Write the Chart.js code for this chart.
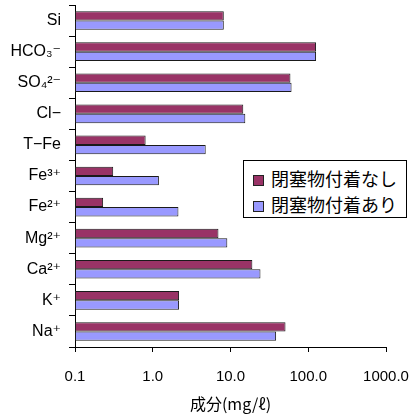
<!DOCTYPE html>
<html>
<head>
<meta charset="utf-8">
<script src="https://cdn.jsdelivr.net/npm/chart.js@4/dist/chart.umd.min.js"></script>
<style>
  html, body { margin: 0; padding: 0; background: #fff; }
  #wrap { position: relative; width: 412px; height: 418px; }
  #legend {
    position: absolute; left: 243px; top: 160px; width: 162px; height: 56px;
    border: 1px solid #000; background: #fff; box-sizing: content-box;
    font-family: 'Noto Sans CJK JP', 'Liberation Sans', sans-serif; font-size: 18px; color: #000;
  }
  #legend .item { position: absolute; left: 9px; height: 22px; line-height: 22px; white-space: nowrap; }
  #legend .box { display: inline-block; width: 9px; height: 9px; border: 1px solid #222; vertical-align: middle; margin-right: 7px; position: relative; top: -1px; }
</style>
</head>
<body>
<div id="wrap">
  <canvas id="chart" width="412" height="418"></canvas>
  <div id="legend"></div>
</div>
<script>
// 成分ごとの濃度 (mg/ℓ)
const categories = ['Si', 'HCO₃⁻', 'SO₄²⁻', 'Cl−', 'T−Fe', 'Fe³⁺', 'Fe²⁺', 'Mg²⁺', 'Ca²⁺', 'K⁺', 'Na⁺'];
const seriesNames = ['閉塞物付着なし', '閉塞物付着あり'];
const withoutDeposit = [8.2, 126, 59, 14.6, 0.81, 0.31, 0.23, 7.0, 19.1, 2.18, 51];
const withDeposit = [8.2, 126, 61, 15.5, 4.8, 1.2, 2.14, 9.1, 24.3, 2.18, 38.6];
const xTicks = [0.1, 1, 10, 100, 1000];
const xTitle = '成分(mg/ℓ)';

const colors = ['#993366', '#9999ff'];
const fontFamily = "'Liberation Sans', 'DejaVu Sans', 'Noto Sans CJK JP', sans-serif";

const ctx = document.getElementById('chart').getContext('2d');
const chart = new Chart(ctx, {
    type: 'bar',
    data: {
        labels: categories,
        datasets: [
            { label: seriesNames[0], data: withoutDeposit, backgroundColor: colors[0] },
            { label: seriesNames[1], data: withDeposit, backgroundColor: colors[1] }
        ].map(ds => Object.assign(ds, {
            borderColor: '#1a1a1a',
            borderWidth: 1,
            borderSkipped: false,
            barPercentage: 1.0,
            categoryPercentage: 0.6
        }))
    },
    options: {
        indexAxis: 'y',
        responsive: false,
        animation: false,
        layout: { padding: { top: 5, right: 26, left: 0, bottom: 0 } },
        plugins: {
            legend: { display: false },
            tooltip: { enabled: false }
        },
        scales: {
            x: {
                type: 'logarithmic',
                min: 0.1,
                max: 1000,
                afterBuildTicks: (scale) => {
                    scale.ticks = xTicks.map(v => ({ value: v }));
                },
                afterFit: (scale) => {
                    scale.height = 71;
                    scale.paddingLeft = 0;
                    scale.paddingRight = 0;
                },
                ticks: {
                    color: '#000',
                    font: { family: fontFamily, size: 15 },
                    padding: 16,
                    maxRotation: 0,
                    autoSkip: false,
                    callback: (value) => Number(value).toFixed(1)
                },
                grid: { drawOnChartArea: false, drawTicks: true, tickLength: 5, color: '#000' },
                border: { display: true, color: '#000', width: 1 },
                title: {
                    display: true,
                    text: xTitle,
                    color: '#000',
                    font: { family: "'Noto Sans CJK JP', sans-serif", size: 16 },
                    padding: { top: 0, bottom: 4 }
                }
            },
            y: {
                offset: true,
                afterFit: (scale) => {
                    scale.width = 75;
                    scale.paddingTop = 0;
                    scale.paddingBottom = 0;
                },
                ticks: {
                    color: '#000',
                    font: { family: fontFamily, size: 16 },
                    padding: 8
                },
                grid: { offset: true, drawOnChartArea: false, drawTicks: true, tickLength: 6, color: '#000' },
                border: { display: true, color: '#000', width: 1 }
            }
        }
    }
});

// 凡例
const legend = document.getElementById('legend');
chart.data.datasets.forEach((ds, i) => {
    const item = document.createElement('div');
    item.className = 'item';
    item.style.top = (6 + i * 26) + 'px';
    const box = document.createElement('span');
    box.className = 'box';
    box.style.background = ds.backgroundColor;
    item.appendChild(box);
    item.appendChild(document.createTextNode(ds.label));
    legend.appendChild(item);
});
</script>
</body>
</html>
